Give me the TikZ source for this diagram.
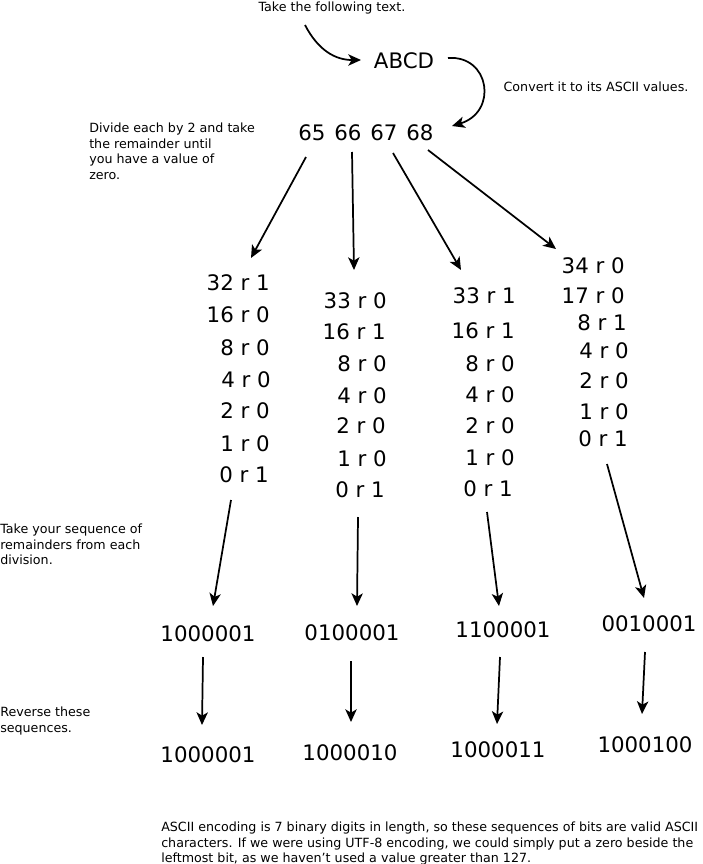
\documentclass[tikz,border=0pt]{standalone}
\usepackage{fontspec}
\setmainfont{DejaVu Sans}
\usetikzlibrary{arrows.meta}
\begin{document}
\begin{tikzpicture}[x=0.75pt,y=-0.75pt,
  big/.style={font=\fontsize{16}{19}\selectfont, inner sep=0pt},
  small/.style={font=\fontsize{9.5}{11.6}\selectfont, inner sep=0pt, align=left},
  arr/.style={-{Stealth[length=9.5pt,width=8.5pt,inset=2.5pt]}, line width=1.3pt}]
\useasboundingbox (0,0) rectangle (703,864);

% texts
\node[small] (t1) at (332,8) {Take the following text.};
\node[big] (abcd) at (404,61) {ABCD};
\node[small] (t2) at (596,87) {Convert it to its ASCII values.};
\node[small, anchor=north west] (t3) at (89,123) {Divide each by 2 and take\\the remainder until\\you have a value of\\zero.};
\node[big] (n65) at (312,133) {65};
\node[big] (n66) at (348,133) {66};
\node[big] (n67) at (384,133) {67};
\node[big] (n68) at (420,133) {68};

% column 1
\node[big, anchor=east] (a1) at (270,283) {32 r 1};
\node[big, anchor=east] (a2) at (270,315) {16 r 0};
\node[big, anchor=east] (a3) at (270,348) {8 r 0};
\node[big, anchor=east] (a4) at (271,380) {4 r 0};
\node[big, anchor=east] (a5) at (270,411) {2 r 0};
\node[big, anchor=east] (a6) at (270,444) {1 r 0};
\node[big, anchor=east] (a7) at (269,475) {0 r 1};
% column 2
\node[big, anchor=east] (b1) at (387,301) {33 r 0};
\node[big, anchor=east] (b2) at (386,332) {16 r 1};
\node[big, anchor=east] (b3) at (387,364) {8 r 0};
\node[big, anchor=east] (b4) at (387,396) {4 r 0};
\node[big, anchor=east] (b5) at (386,426) {2 r 0};
\node[big, anchor=east] (b6) at (387,459) {1 r 0};
\node[big, anchor=east] (b7) at (385,490) {0 r 1};
% column 3
\node[big, anchor=east] (c1) at (516,296) {33 r 1};
\node[big, anchor=east] (c2) at (515,331) {16 r 1};
\node[big, anchor=east] (c3) at (515,364) {8 r 0};
\node[big, anchor=east] (c4) at (515,395) {4 r 0};
\node[big, anchor=east] (c5) at (515,426) {2 r 0};
\node[big, anchor=east] (c6) at (515,458) {1 r 0};
\node[big, anchor=east] (c7) at (513,489) {0 r 1};
% column 4
\node[big, anchor=east] (d1) at (625,266) {34 r 0};
\node[big, anchor=east] (d2) at (625,296) {17 r 0};
\node[big, anchor=east] (d3) at (627,323) {8 r 1};
\node[big, anchor=east] (d4) at (629,351) {4 r 0};
\node[big, anchor=east] (d5) at (629,381) {2 r 0};
\node[big, anchor=east] (d6) at (629,412) {1 r 0};
\node[big, anchor=east] (d7) at (628,439) {0 r 1};

\node[small, anchor=north west] (t4) at (0,524) {Take your sequence of\\remainders from each\\division.};
\node[small, anchor=north west] (t5) at (0,707) {Reverse these\\sequences.};

\node[big] (e1) at (208,634) {1000001};
\node[big] (e2) at (352,633) {0100001};
\node[big] (e3) at (503,630) {1100001};
\node[big] (e4) at (649,624) {0010001};
\node[big] (f1) at (208,755) {1000001};
\node[big] (f2) at (350,753) {1000010};
\node[big] (f3) at (498,750) {1000011};
\node[big] (f4) at (645,745) {1000100};

\node[small, anchor=north west] (t6) at (161,822) {ASCII encoding is 7 binary digits in length, so these sequences of bits are valid ASCII\\characters. If we were using UTF-8 encoding, we could simply put a zero beside the\\leftmost bit, as we haven't used a value greater than 127.};

% connector endpoints
\coordinate (p1s) at (305,25);  \coordinate (p1e) at (361,60);
\coordinate (p2s) at (448,58);  \coordinate (p2e) at (452,126);
\coordinate (q1s) at (306,157); \coordinate (q1e) at (251,258);
\coordinate (q2s) at (352,152); \coordinate (q2e) at (354,270);
\coordinate (q3s) at (393,153); \coordinate (q3e) at (461,270);
\coordinate (q4s) at (428,150); \coordinate (q4e) at (556,249);
\coordinate (r1s) at (231,500); \coordinate (r1e) at (213,606);
\coordinate (r2s) at (358,517); \coordinate (r2e) at (357,606);
\coordinate (r3s) at (487,512); \coordinate (r3e) at (499,606);
\coordinate (r4s) at (607,464); \coordinate (r4e) at (644,598);
\coordinate (s1s) at (203,657); \coordinate (s1e) at (202,725);
\coordinate (s2s) at (351,661); \coordinate (s2e) at (351,722);
\coordinate (s3s) at (500,657); \coordinate (s3e) at (497,724);
\coordinate (s4s) at (645,652); \coordinate (s4e) at (642,714);

\draw[arr] (p1s) .. controls (318,50) and (335,60) .. (p1e);
\draw[arr] (p2s) .. controls (490,55) and (498,112) .. (p2e);
\foreach \n in {q1,q2,q3,q4,r1,r2,r3,r4,s1,s2,s3,s4}
  \draw[arr] (\n s) -- (\n e);
\end{tikzpicture}
\end{document}
